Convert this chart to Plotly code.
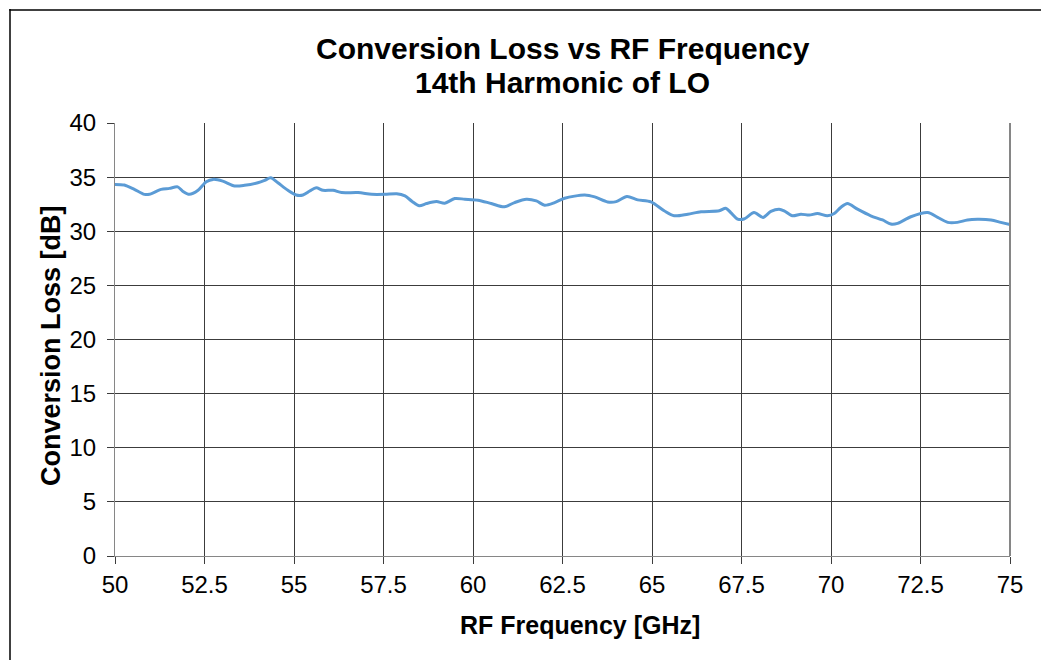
import plotly.graph_objects as go

freq_ghz = [50.0, 50.26, 50.54, 50.82, 50.96, 51.29, 51.52, 51.75, 51.89, 52.08, 52.32, 52.55,
            52.74, 53.01, 53.34, 53.62, 53.99, 54.18, 54.35, 54.55, 54.83, 55.06, 55.25, 55.44,
            55.62, 55.81, 56.09, 56.33, 56.79, 57.17, 57.54, 57.87, 58.1, 58.3, 58.5,
            58.7, 58.98, 59.21, 59.49, 59.77, 60.14, 60.51, 60.88, 61.16, 61.49, 61.77, 62.0,
            62.28, 62.56, 63.12, 63.4, 63.76, 64.0, 64.3, 64.6, 64.97, 65.34, 65.62, 66.0,
            66.37, 66.88, 67.06, 67.2, 67.39, 67.57, 67.85, 68.1, 68.32, 68.55, 68.69, 68.92,
            69.16, 69.39, 69.62, 69.9, 70.09, 70.27, 70.46, 70.74, 71.11, 71.44, 71.67, 71.86,
            72.23, 72.7, 72.98, 73.26, 73.53, 73.81, 74.09, 74.47, 74.74, 75.0]
loss_db = [34.33, 34.27, 33.87, 33.41, 33.41, 33.87, 33.96, 34.1, 33.7, 33.41, 33.78, 34.57,
           34.79, 34.63, 34.18, 34.24, 34.48, 34.7, 34.94, 34.48, 33.78, 33.35, 33.35, 33.72,
           34.02, 33.78, 33.78, 33.57, 33.57, 33.41, 33.41, 33.47, 33.26, 32.75, 32.35,
           32.56, 32.74, 32.59, 33.02, 32.96, 32.87, 32.56, 32.26, 32.65, 32.96, 32.8, 32.41,
           32.65, 33.05, 33.35, 33.17, 32.71, 32.74, 33.2, 32.9, 32.71, 31.89, 31.43, 31.58,
           31.8, 31.89, 32.13, 31.73, 31.13, 31.13, 31.73, 31.28, 31.83, 32.04, 31.89, 31.43,
           31.58, 31.49, 31.64, 31.43, 31.64, 32.2, 32.56, 32.04, 31.43, 31.04, 30.67, 30.73,
           31.34, 31.73, 31.28, 30.82, 30.82, 31.04, 31.1, 31.04, 30.82, 30.61]

x_ticks = [50, 52.5, 55, 57.5, 60, 62.5, 65, 67.5, 70, 72.5, 75]
x_tick_text = ["50", "52.5", "55", "57.5", "60", "62.5", "65", "67.5", "70", "72.5", "75"]
y_ticks = [0, 5, 10, 15, 20, 25, 30, 35, 40]

FONT = "Liberation Sans, Arial, sans-serif"
# page body has an 8px margin; figure coordinates = page coordinates - 8
OFF = 8
W, H = 1049 - OFF, 660 - OFF
L, T = 115 - OFF, 123 - OFF
R = W - (1010 - OFF)
B = H - (556 - OFF)
pw, ph = W - L - R, H - T - B


def px_x(p):  # page px -> paper x
    return (p - OFF - L) / pw


def px_y(p):  # page px -> paper y
    return (H - B - (p - OFF)) / ph


fig = go.Figure()
fig.add_trace(go.Scatter(
    x=freq_ghz, y=loss_db, mode="lines",
    line=dict(color="#5B9BD5", width=3, shape="spline", smoothing=0.8),
    showlegend=False, hoverinfo="x+y",
))

axis_common = dict(
    showgrid=True, gridcolor="#3c3c3c", gridwidth=1,
    showline=True, linecolor="#868686", linewidth=1,
    ticks="outside", ticklen=7, tickcolor="#3c3c3c", tickwidth=1,
    tickfont=dict(size=24, family=FONT, color="black"),
    zeroline=False,
)

fig.update_layout(
    width=W, height=H,
    margin=dict(l=L, r=R, t=T, b=B),
    paper_bgcolor="white", plot_bgcolor="white",
    font=dict(family=FONT, color="black"),
    xaxis=dict(range=[50, 75], tickmode="array", tickvals=x_ticks, ticktext=x_tick_text,
               ticklabelstandoff=0, **axis_common),
    yaxis=dict(range=[0, 40], tickmode="array", tickvals=y_ticks,
               ticklabelstandoff=6, **axis_common),
    annotations=[
        dict(text="<b>Conversion Loss vs RF Frequency</b>",
             xref="paper", yref="paper", x=0.5, y=px_y(49),
             xanchor="center", yanchor="middle", showarrow=False,
             font=dict(size=30, family=FONT, color="black")),
        dict(text="<b>14th Harmonic of LO</b>",
             xref="paper", yref="paper", x=0.5, y=px_y(83),
             xanchor="center", yanchor="middle", showarrow=False,
             font=dict(size=30, family=FONT, color="black")),
        dict(text="<b>RF Frequency [GHz]</b>",
             xref="paper", yref="paper", x=px_x(580), y=px_y(625),
             xanchor="center", yanchor="middle", showarrow=False,
             font=dict(size=25, family=FONT, color="black")),
        dict(text="<b>Conversion Loss [dB]</b>", textangle=-90,
             xref="paper", yref="paper", x=px_x(51), y=px_y(346),
             xanchor="center", yanchor="middle", showarrow=False,
             font=dict(size=27, family=FONT, color="black")),
    ],
    shapes=[
        dict(type="line", xref="paper", yref="paper",
             x0=px_x(10), x1=px_x(10), y0=px_y(9), y1=px_y(670),
             line=dict(color="black", width=1.5)),
        dict(type="line", xref="paper", yref="paper",
             x0=px_x(9.3), x1=px_x(1060), y0=px_y(10), y1=px_y(10),
             line=dict(color="black", width=1.5)),
        dict(type="line", xref="paper", yref="paper",
             x0=1, x1=1, y0=0, y1=1, line=dict(color="#868686", width=2)),
    ],
)

fig.write_html("out.html")
